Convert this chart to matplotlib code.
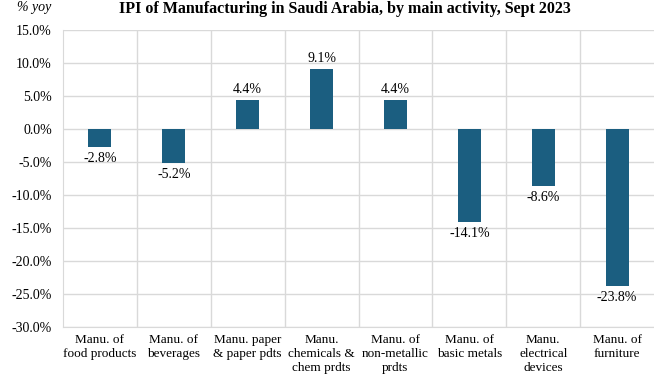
import matplotlib
matplotlib.use("Agg")
import matplotlib.pyplot as plt
import numpy as np

categories = [
    "Manu. of\nfood products",
    "Manu. of\nbeverages",
    "Manu. paper\n& paper pdts",
    "Manu.\nchemicals &\nchem prdts",
    "Manu. of\nnon-metallic\nprdts",
    "Manu. of\nbasic metals",
    "Manu.\nelectrical\ndevices",
    "Manu. of\nfurniture",
]
values = [-2.8, -5.2, 4.4, 9.1, 4.4, -14.1, -8.6, -23.8]
y_ticks = [15, 10, 5, 0, -5, -10, -15, -20, -25, -30]
title = "IPI of Manufacturing in Saudi Arabia, by main activity, Sept 2023"

plt.rcParams["font.family"] = ["Liberation Serif", "DejaVu Serif"]

bar_color = "#1b5e80"
grid_color = "#d9d9d9"

fig = plt.figure(figsize=(6.54, 3.76), dpi=100)
ax = fig.add_axes([63 / 654, 1 - 327 / 376, 1 - 63 / 654, 297 / 376])

x = np.arange(len(categories))
bars = ax.bar(x, values, width=0.31, color=bar_color, zorder=3)

ax.set_xlim(-0.5, len(categories) - 0.5)
ax.set_ylim(-30, 15)
ax.set_yticks(y_ticks)
ax.set_yticklabels([f"{v:.1f}%" for v in y_ticks], fontsize=10)
ax.set_xticks(x)
ax.set_xticklabels(categories, fontsize=9.5, linespacing=1.2, va="top")
ax.tick_params(axis="both", length=0, pad=8)
ax.tick_params(axis="x", pad=5)

# horizontal gridlines and category separators
ax.yaxis.grid(True, color=grid_color, linewidth=1, zorder=0)
for sep in np.arange(0.5, len(categories) - 0.5, 1):
    ax.axvline(sep, color=grid_color, linewidth=1, zorder=0)

for side in ["top", "right"]:
    ax.spines[side].set_visible(False)
ax.spines["left"].set_color(grid_color)
ax.spines["bottom"].set_color(grid_color)

for xi, v in zip(x, values):
    if v >= 0:
        ax.annotate(f"{v:.1f}%", (xi, v), xytext=(0, 3), textcoords="offset points",
                    ha="center", va="bottom", fontsize=10)
    else:
        ax.annotate(f"{v:.1f}%", (xi, v), xytext=(0, -3.5), textcoords="offset points",
                    ha="center", va="top", fontsize=10)

fig.text(345 / 654, 1 - 1 / 376, title, ha="center", va="top",
         fontsize=11.5, fontweight="bold")
fig.text(17 / 654, 1 - 8 / 376, "% yoy", ha="left", va="center",
         fontsize=10, fontstyle="italic")

fig.savefig("out.png", dpi=100)
